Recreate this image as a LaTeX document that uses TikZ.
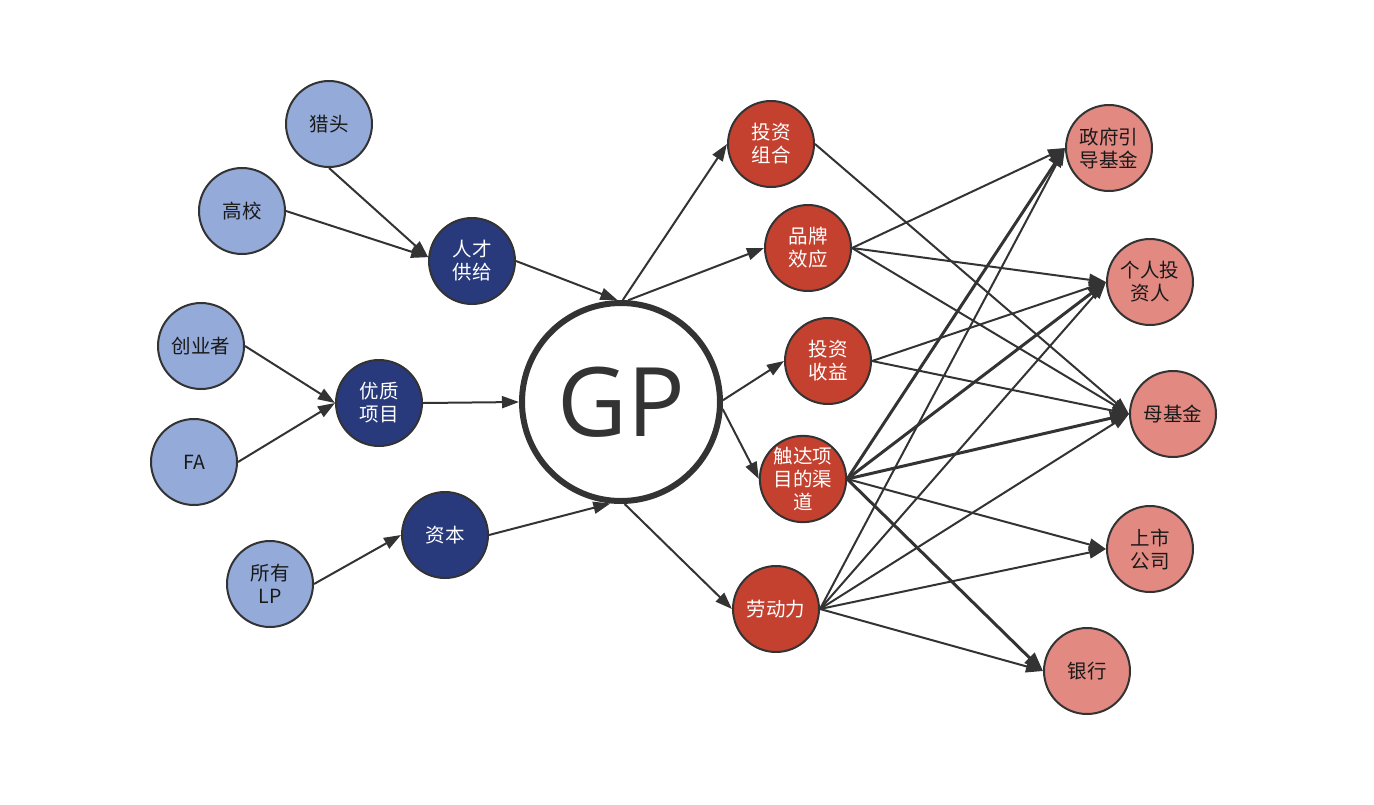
\documentclass[tikz,border=0pt]{standalone}
\usepackage{fontspec}
\setmainfont{Noto Sans CJK SC}
\newfontfamily\gpfont{Open Sans}
\usetikzlibrary{arrows.meta}
\definecolor{lblue}{HTML}{94AAD8}
\definecolor{dblue}{HTML}{283A7C}
\definecolor{redn}{HTML}{C4402F}
\definecolor{pinkn}{HTML}{E28A82}
\definecolor{edgec}{HTML}{333333}
\begin{document}
\begin{tikzpicture}[x=1pt,y=-1pt,
  basenode/.style={circle, draw=edgec, line width=2pt, minimum size=86pt, inner sep=0pt, align=center, font=\fontsize{19.5}{23}\selectfont},
  lb/.style={basenode, fill=lblue, text=black!90},
  db/.style={basenode, fill=dblue, text=white},
  rd/.style={basenode, fill=redn, text=white},
  pk/.style={basenode, fill=pinkn, text=black!90},
  conn/.style={draw=edgec, line width=2pt, -{Triangle[length=17pt,width=12pt]}},
  boldconn/.style={draw=edgec, line width=3pt, -{Triangle[length=19pt,width=14pt]}}]
\useasboundingbox (0,0) rectangle (1374,804);
% left side
\node[lb] (lietou) at (329,124) {猎头};
\node[lb] (gaoxiao) at (242,211) {高校};
\node[db] (rencai) at (472,261) {人才\\供给};
\node[lb] (chuangye) at (201,346) {创业者};
\node[lb] (fa) at (194,462) {FA};
\node[db] (youzhi) at (379,403) {优质\\项目};
\node[lb] (lp) at (270,584) {所有\\LP};
\node[db] (ziben) at (445,535) {资本};
% center
\node[circle, draw=edgec, line width=6pt, minimum size=198pt, inner sep=0pt, text=edgec, font=\gpfont\fontsize{96}{110}\selectfont] (gp) at (621,402) {GP};
% middle right
\node[rd] (zuhe) at (771,144) {投资\\组合};
\node[rd] (pinpai) at (808,248) {品牌\\效应};
\node[rd] (shouyi) at (828,361) {投资\\收益};
\node[rd] (qudao) at (803,479) {触达项\\目的渠\\道};
\node[rd] (laodong) at (776,609) {劳动力};
% far right
\node[pk] (zhengfu) at (1109,148) {政府引\\导基金};
\node[pk] (geren) at (1150,282) {个人投\\资人};
\node[pk] (mujijin) at (1173,414) {母基金};
\node[pk] (shangshi) at (1150,549) {上市\\公司};
\node[pk] (yinhang) at (1087,671) {银行};
% left edges
\draw[conn] (lietou.south) -- (rencai.175);
\draw[conn] (gaoxiao.east) -- (rencai.175);
\draw[conn] (rencai.east) -- (gp.92);
\draw[conn] (chuangye.east) -- (youzhi.west);
\draw[conn] (fa.east) -- (youzhi.west);
\draw[conn] (youzhi.east) -- (gp.west);
\draw[conn] (lp.east) -- (ziben.west);
\draw[conn] (ziben.east) -- (gp.-96);
% GP outputs
\draw[conn] (gp.89) -- (zuhe.west);
\draw[conn] (gp.86) -- (pinpai.west);
\draw[conn] (gp.1) -- (shouyi.west);
\draw[conn] (gp.-4) -- (qudao.west);
\draw[conn] (gp.-88) -- (laodong.west);
% right edges
\draw[conn] (zuhe.east) -- (mujijin.west);
\draw[conn] (pinpai.east) -- (zhengfu.west);
\draw[conn] (pinpai.east) -- (geren.west);
\draw[conn] (pinpai.east) -- (mujijin.west);
\draw[conn] (shouyi.east) -- (geren.west);
\draw[conn] (shouyi.east) -- (mujijin.west);
\draw[boldconn] (qudao.east) -- (zhengfu.west);
\draw[boldconn] (qudao.east) -- (geren.west);
\draw[boldconn] (qudao.east) -- (mujijin.west);
\draw[conn] (qudao.east) -- (shangshi.west);
\draw[boldconn] (qudao.east) -- (yinhang.west);
\draw[conn] (laodong.east) -- (zhengfu.west);
\draw[conn] (laodong.east) -- (geren.west);
\draw[conn] (laodong.east) -- (mujijin.west);
\draw[conn] (laodong.east) -- (shangshi.west);
\draw[conn] (laodong.east) -- (yinhang.west);
\end{tikzpicture}
\end{document}
